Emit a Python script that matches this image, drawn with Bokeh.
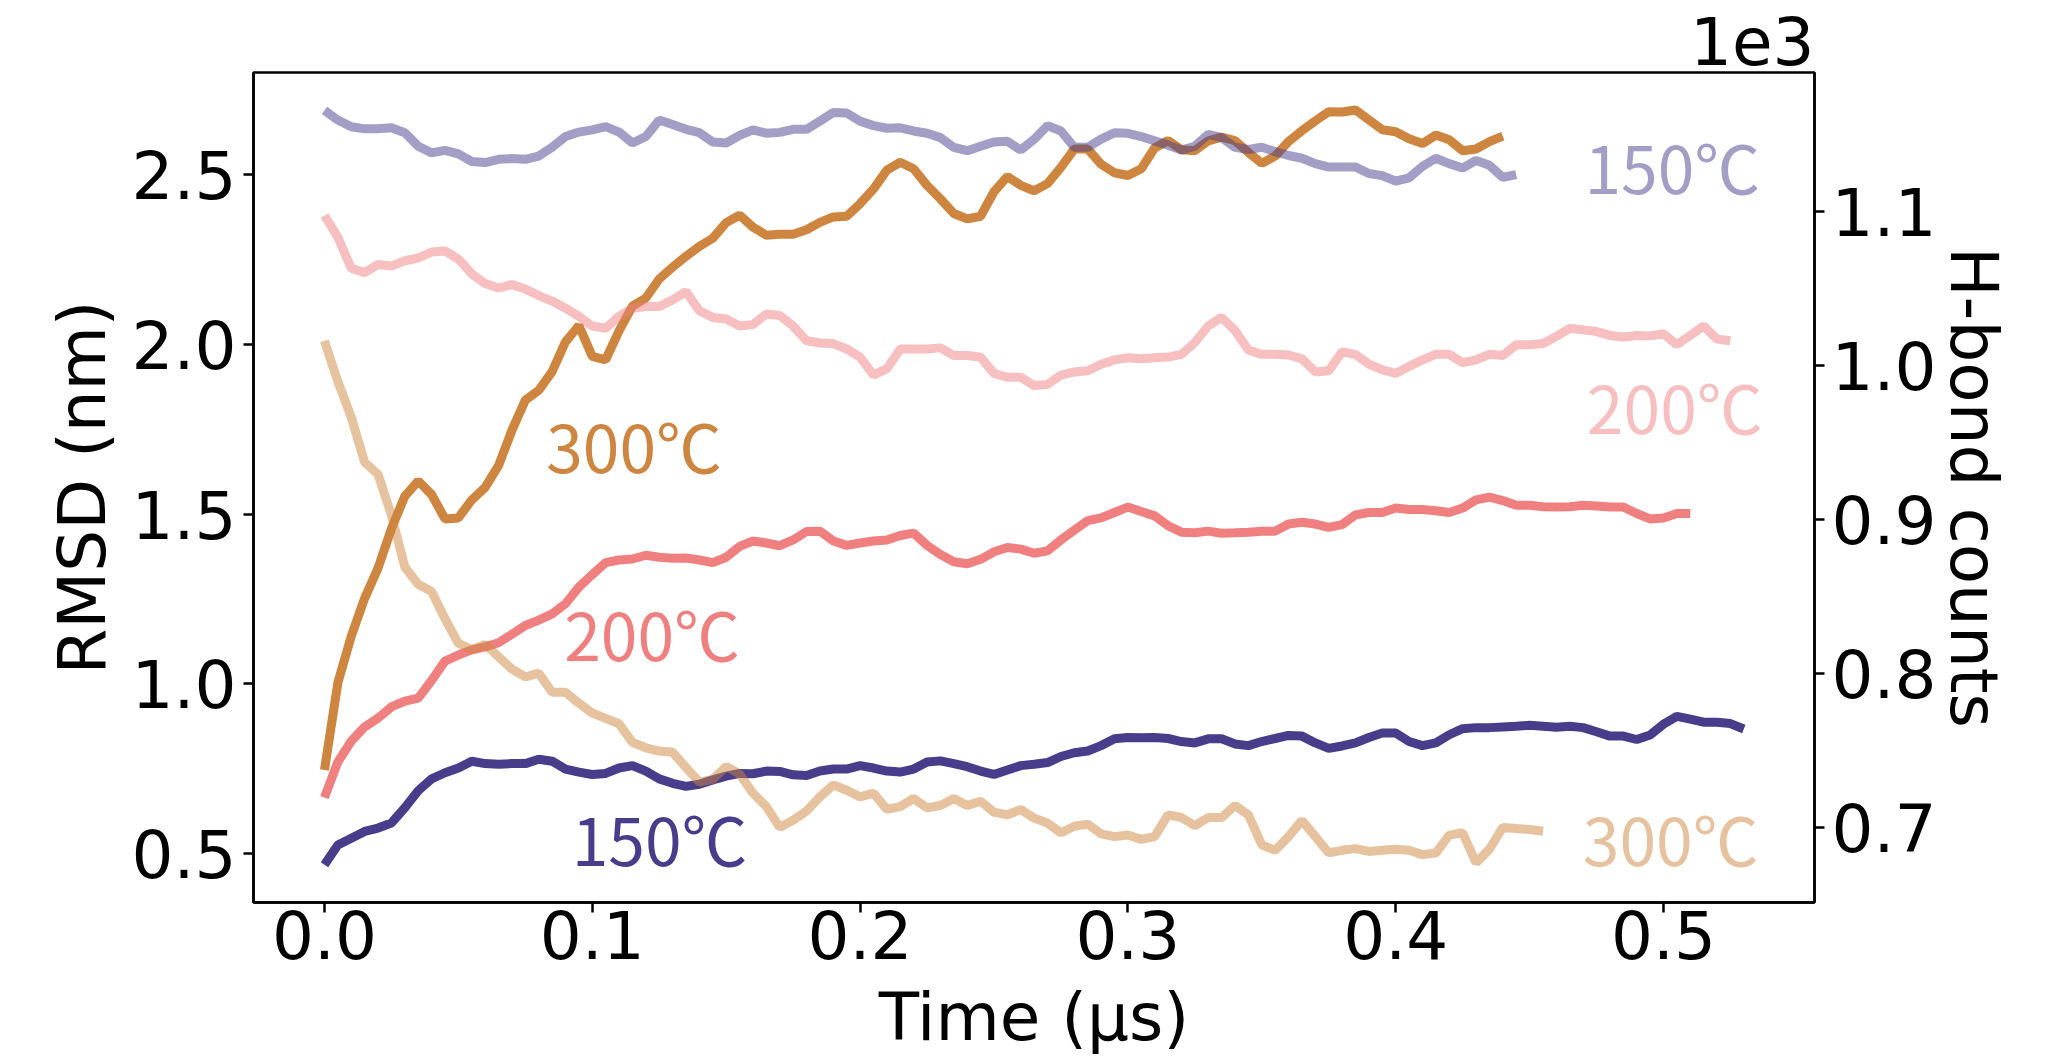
from bokeh.plotting import figure
from bokeh.models import Range1d, LinearAxis, FixedTicker, CustomJSTickFormatter, Label
from bokeh.embed import file_html
from bokeh.resources import INLINE

# ---------------- data ----------------
time_us = [0.000, 0.005, 0.010, 0.015, 0.020, 0.025, 0.030, 0.035, 0.040, 0.045,
           0.050, 0.055, 0.060, 0.065, 0.070, 0.075, 0.080, 0.085, 0.090, 0.095,
           0.100, 0.105, 0.110, 0.115, 0.120, 0.125, 0.130, 0.135, 0.140, 0.145,
           0.150, 0.155, 0.160, 0.165, 0.170, 0.175, 0.180, 0.185, 0.190, 0.195,
           0.200, 0.205, 0.210, 0.215, 0.220, 0.225, 0.230, 0.235, 0.240, 0.245,
           0.250, 0.255, 0.260, 0.265, 0.270, 0.275, 0.280, 0.285, 0.290, 0.295,
           0.300, 0.305, 0.310, 0.315, 0.320, 0.325, 0.330, 0.335, 0.340, 0.345,
           0.350, 0.355, 0.360, 0.365, 0.370, 0.375, 0.380, 0.385, 0.390, 0.395,
           0.400, 0.405, 0.410, 0.415, 0.420, 0.425, 0.430, 0.435, 0.440, 0.445,
           0.450, 0.455, 0.460, 0.465, 0.470, 0.475, 0.480, 0.485, 0.490, 0.495,
           0.500, 0.505, 0.510, 0.515, 0.520, 0.525, 0.530]

rmsd_150 = [0.467, 0.525, 0.545, 0.565, 0.575, 0.590, 0.635, 0.685, 0.720, 0.738,
            0.752, 0.772, 0.765, 0.763, 0.765, 0.765, 0.778, 0.772, 0.749, 0.740,
            0.733, 0.736, 0.752, 0.759, 0.743, 0.720, 0.707, 0.698, 0.704, 0.717,
            0.728, 0.736, 0.735, 0.743, 0.742, 0.732, 0.730, 0.743, 0.749, 0.749,
            0.759, 0.752, 0.743, 0.740, 0.749, 0.770, 0.773, 0.765, 0.756, 0.743,
            0.733, 0.746, 0.759, 0.763, 0.768, 0.786, 0.797, 0.802, 0.818, 0.838,
            0.842, 0.841, 0.842, 0.839, 0.830, 0.826, 0.838, 0.838, 0.823, 0.818,
            0.830, 0.839, 0.848, 0.846, 0.826, 0.810, 0.817, 0.826, 0.842, 0.855,
            0.855, 0.830, 0.818, 0.826, 0.850, 0.868, 0.871, 0.871, 0.873, 0.875,
            0.878, 0.875, 0.872, 0.875, 0.871, 0.859, 0.846, 0.846, 0.836, 0.849,
            0.881, 0.904, 0.896, 0.887, 0.887, 0.883, 0.867]

rmsd_200 = [0.665, 0.770, 0.831, 0.873, 0.899, 0.932, 0.949, 0.958, 1.010, 1.067,
            1.085, 1.100, 1.109, 1.121, 1.146, 1.172, 1.188, 1.206, 1.236, 1.285,
            1.322, 1.357, 1.365, 1.368, 1.379, 1.373, 1.370, 1.371, 1.365, 1.357,
            1.373, 1.405, 1.421, 1.415, 1.407, 1.424, 1.449, 1.450, 1.421, 1.408,
            1.415, 1.421, 1.424, 1.437, 1.444, 1.408, 1.381, 1.360, 1.354, 1.367,
            1.389, 1.402, 1.397, 1.385, 1.392, 1.424, 1.453, 1.481, 1.489, 1.505,
            1.521, 1.508, 1.495, 1.466, 1.447, 1.445, 1.450, 1.444, 1.445, 1.447,
            1.450, 1.450, 1.471, 1.476, 1.471, 1.461, 1.469, 1.498, 1.505, 1.505,
            1.518, 1.514, 1.514, 1.510, 1.505, 1.518, 1.542, 1.550, 1.540, 1.526,
            1.526, 1.522, 1.521, 1.522, 1.526, 1.524, 1.521, 1.521, 1.502, 1.486,
            1.489, 1.502, 1.502]

rmsd_300 = [0.746, 1.003, 1.140, 1.252, 1.341, 1.457, 1.553, 1.598, 1.558, 1.486,
            1.489, 1.542, 1.579, 1.643, 1.747, 1.836, 1.865, 1.920, 2.008, 2.056,
            1.965, 1.955, 2.040, 2.113, 2.137, 2.193, 2.228, 2.260, 2.289, 2.313,
            2.359, 2.381, 2.346, 2.322, 2.325, 2.325, 2.338, 2.360, 2.376, 2.378,
            2.415, 2.458, 2.514, 2.537, 2.518, 2.469, 2.429, 2.386, 2.370, 2.378,
            2.450, 2.495, 2.469, 2.453, 2.474, 2.522, 2.576, 2.576, 2.531, 2.506,
            2.498, 2.518, 2.579, 2.601, 2.574, 2.571, 2.600, 2.611, 2.601, 2.566,
            2.534, 2.555, 2.598, 2.630, 2.659, 2.686, 2.685, 2.691, 2.662, 2.633,
            2.627, 2.606, 2.592, 2.617, 2.603, 2.571, 2.576, 2.598, 2.614]

hbond_150 = [1165.8, 1159.5, 1155.2, 1153.8, 1153.8, 1154.5, 1151.3, 1142.5, 1138.2, 1139.8,
             1137.5, 1132.6, 1131.9, 1134.0, 1134.5, 1134.0, 1136.1, 1141.8, 1148.8, 1151.7,
             1153.1, 1155.2, 1151.7, 1144.6, 1148.8, 1159.5, 1156.6, 1153.5, 1151.3, 1145.3,
             1144.6, 1149.6, 1153.1, 1151.0, 1151.5, 1153.5, 1153.5, 1158.8, 1164.4, 1164.1,
             1158.8, 1155.9, 1154.2, 1154.5, 1152.4, 1150.9, 1148.1, 1141.8, 1139.6, 1142.5,
             1145.3, 1145.7, 1140.0, 1147.0, 1155.9, 1152.4, 1141.8, 1141.8, 1147.1, 1151.3,
             1150.9, 1148.8, 1146.0, 1143.2, 1140.0, 1142.5, 1150.2, 1148.1, 1141.8, 1140.4,
             1141.8, 1139.0, 1136.5, 1134.7, 1131.2, 1129.0, 1129.0, 1129.0, 1124.8, 1123.4,
             1119.8, 1122.0, 1129.4, 1134.7, 1131.2, 1128.3, 1133.3, 1130.1, 1122.3, 1124.1]

hbond_200 = [1097.5, 1083.4, 1063.2, 1060.4, 1065.7, 1064.6, 1068.1, 1069.9, 1073.8, 1074.5,
             1069.2, 1059.6, 1053.3, 1050.4, 1052.6, 1049.7, 1045.5, 1041.9, 1037.3, 1032.0,
             1025.7, 1024.2, 1032.0, 1037.3, 1038.4, 1038.4, 1042.7, 1048.0, 1035.6, 1031.3,
             1030.3, 1025.7, 1026.7, 1033.5, 1032.5, 1025.7, 1016.1, 1014.7, 1014.3, 1010.8,
             1005.5, 993.8, 998.0, 1010.8, 1010.8, 1010.8, 1011.5, 1006.5, 1006.5, 1005.5,
             994.9, 992.4, 992.4, 987.0, 987.8, 993.8, 995.9, 996.6, 1000.9, 1003.7,
             1005.1, 1004.4, 1005.1, 1005.5, 1007.3, 1015.0, 1025.7, 1031.3, 1022.8, 1010.1,
             1007.3, 1007.3, 1006.9, 1004.4, 995.9, 996.6, 1009.0, 1007.3, 1000.9, 997.3,
             994.9, 999.5, 1003.7, 1007.3, 1007.3, 1001.9, 1003.7, 1007.3, 1006.5, 1013.6,
             1013.6, 1014.3, 1019.0, 1024.2, 1023.2, 1022.1, 1019.6, 1018.6, 1019.6, 1019.3,
             1020.7, 1013.6, 1019.6, 1025.7, 1017.2, 1016.1]

hbond_300 = [1016.1, 989.6, 966.5, 937.2, 929.4, 902.8, 869.2, 857.9, 853.3, 835.6,
             819.6, 815.4, 818.9, 810.8, 802.8, 797.7, 800.2, 787.8, 787.8, 780.7,
             774.3, 770.8, 767.3, 755.2, 751.7, 749.6, 748.8, 738.9, 729.4, 731.2,
             739.6, 734.7, 722.3, 713.5, 700.0, 704.6, 710.6, 719.8, 727.6, 724.1,
             719.8, 722.3, 711.7, 713.5, 718.8, 712.7, 714.2, 718.8, 714.2, 717.0,
             709.9, 708.1, 711.7, 706.0, 702.8, 696.5, 700.7, 702.1, 695.8, 694.0,
             695.0, 692.2, 694.0, 708.1, 706.4, 701.1, 706.4, 706.4, 714.2, 708.1,
             688.7, 685.1, 694.0, 704.6, 694.0, 683.4, 685.1, 686.2, 684.4, 685.1,
             685.8, 685.1, 682.3, 683.4, 695.0, 696.5, 677.0, 685.8, 700.0, 699.3,
             698.6, 697.5]

x_ticks = [0.0, 0.1, 0.2, 0.3, 0.4, 0.5]
rmsd_ticks = [0.5, 1.0, 1.5, 2.0, 2.5]
hbond_ticks = [700, 800, 900, 1000, 1100]

label_texts = ["300℃", "200℃", "150℃", "150℃", "200℃", "300℃"]
label_x = [0.0828, 0.0895, 0.0923, 0.4705, 0.4714, 0.4699]
label_y = [1.706, 1.152, 0.548, 2.529, 1.823, 0.548]

# ---------------- styles ----------------
C150, C200, C300 = "#483D8B", "#F08080", "#CD853F"
FONT = "DejaVu Sans"
FS = "66px"
LW = 9

p = figure(width=2066, height=1059, output_backend="svg", toolbar_location=None,
           x_range=Range1d(-0.0265, 0.5564), y_range=Range1d(0.3557, 2.8015),
           min_border_left=253, min_border_right=252, min_border_top=72,
           min_border_bottom=157)
p.extra_y_ranges = {"hb": Range1d(651.2, 1190.4)}
p.xgrid.visible = False
p.ygrid.visible = False
p.outline_line_color = "black"
p.outline_line_width = 2.5
p.outline_line_alpha = 1.0
p.background_fill_color = "white"
p.border_fill_color = "white"

# offset text of the right axis ("1e3"), right-aligned above the frame
p.title.text = "1e3"
p.title.align = "right"
p.title.text_font = FONT
p.title.text_font_size = FS
p.title.text_font_style = "normal"
p.title.text_color = "black"
p.title.standoff = 15
p.title.offset = 0

right_axis = LinearAxis(y_range_name="hb")
p.add_layout(right_axis, "right")

for ax in [p.xaxis[0], p.yaxis[0], right_axis]:
    ax.major_label_text_font = FONT
    ax.major_label_text_font_size = FS
    ax.major_label_text_color = "black"
    ax.axis_label_text_font = FONT
    ax.axis_label_text_font_size = FS
    ax.axis_label_text_font_style = "normal"
    ax.axis_label_text_color = "black"
    ax.axis_line_width = 2.5
    ax.axis_line_color = "black"
    ax.major_tick_line_width = 2.5
    ax.major_tick_line_color = "black"
    ax.major_tick_out = 10
    ax.major_tick_in = 0
    ax.minor_tick_line_color = None
    ax.major_label_standoff = 7

p.xaxis[0].ticker = FixedTicker(ticks=x_ticks)
p.xaxis[0].formatter = CustomJSTickFormatter(code="return tick.toFixed(1);")
p.xaxis[0].major_label_standoff = -3
p.xaxis[0].axis_label = "Time (µs)"
p.xaxis[0].axis_label_standoff = 17
p.yaxis[0].ticker = FixedTicker(ticks=rmsd_ticks)
p.yaxis[0].formatter = CustomJSTickFormatter(code="return tick.toFixed(1);")
p.yaxis[0].axis_label = "RMSD (nm)"
p.yaxis[0].axis_label_standoff = 8
right_axis.ticker = FixedTicker(ticks=hbond_ticks)
right_axis.formatter = CustomJSTickFormatter(code="return (tick/1000).toFixed(1);")
right_axis.axis_label = "H-bond counts"
right_axis.axis_label_standoff = -4

# RMSD lines (left axis)
p.line(time_us[:len(rmsd_150)], rmsd_150, line_color=C150, line_width=LW)
p.line(time_us[:len(rmsd_200)], rmsd_200, line_color=C200, line_width=LW)
p.line(time_us[:len(rmsd_300)], rmsd_300, line_color=C300, line_width=LW)
# H-bond lines (right axis)
p.line(time_us[:len(hbond_150)], hbond_150, line_color=C150, line_alpha=0.5, line_width=LW, y_range_name="hb")
p.line(time_us[:len(hbond_200)], hbond_200, line_color=C200, line_alpha=0.5, line_width=LW, y_range_name="hb")
p.line(time_us[:len(hbond_300)], hbond_300, line_color=C300, line_alpha=0.5, line_width=LW, y_range_name="hb")

label_colors = [C300, C200, C150, C150, C200, C300]
label_alphas = [1.0, 1.0, 1.0, 0.5, 0.5, 0.5]
for txt, lx, ly, col, al in zip(label_texts, label_x, label_y, label_colors, label_alphas):
    p.add_layout(Label(x=lx, y=ly, text=txt, text_font="Noto Sans CJK SC",
                       text_font_size=FS, text_color=col, text_alpha=al,
                       text_align="left", text_baseline="alphabetic"))

open("out.html", "w").write(file_html(p, INLINE))
